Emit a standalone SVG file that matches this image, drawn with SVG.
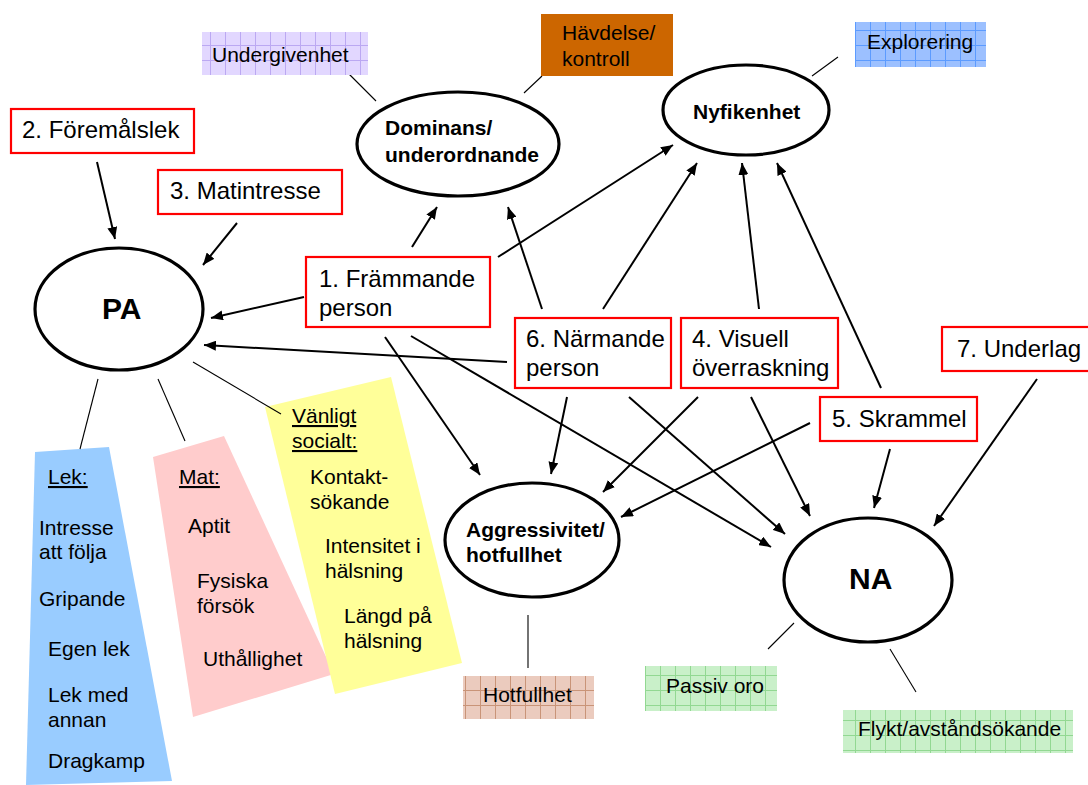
<svg xmlns="http://www.w3.org/2000/svg" width="1088" height="785" viewBox="0 0 1088 785">
<style>
text{font-family:"Liberation Sans",Arial,sans-serif;fill:#000}
.rb{fill:#fff;stroke:#f00;stroke-width:2.2}
.rt{font-size:24px}
.el{fill:#fff;stroke:#000;stroke-width:3.2}
.et{font-size:21px;font-weight:bold}
.big{font-size:30px;font-weight:bold}
.lt{font-size:21px}
.pt{font-size:21px}
.u{text-decoration:underline}
.ar{stroke:#000;stroke-width:2;fill:none;marker-end:url(#ah)}
.tl{stroke:#000;stroke-width:1.1;fill:none}
</style>
<defs>
<marker id="ah" viewBox="0 0 12 10" refX="12" refY="5" markerWidth="12" markerHeight="10" markerUnits="userSpaceOnUse" orient="auto">
<path d="M0,0 L12,5 L0,10 z" fill="#000"/>
</marker>
<pattern id="gP" width="15" height="15" patternUnits="userSpaceOnUse"><rect width="15" height="15" fill="#E2D7FF"/><path d="M0,0.5H15M0.5,0V15" stroke="#BBA8F2" stroke-width="1"/></pattern>
<pattern id="gB" width="15" height="15" patternUnits="userSpaceOnUse"><rect width="15" height="15" fill="#9CC0FF"/><path d="M0,0.5H15M0.5,0V15" stroke="#5C9BFF" stroke-width="1"/></pattern>
<pattern id="gR" width="15" height="15" patternUnits="userSpaceOnUse"><rect width="15" height="15" fill="#EBCBBE"/><path d="M0,0.5H15M0.5,0V15" stroke="#C99478" stroke-width="1"/></pattern>
<pattern id="gG" width="15" height="15" patternUnits="userSpaceOnUse"><rect width="15" height="15" fill="#C9F0C9"/><path d="M0,0.5H15M0.5,0V15" stroke="#92D892" stroke-width="1"/></pattern>
</defs>

<g id="polygons">
<polygon points="35,452 109,447 172,781 26,785" fill="#99CCFF"/>
<polygon points="153,457 224,436 334,674 193,717" fill="#FFCCCC"/>
<polygon points="265,407 391,377 462,663 335,694" fill="#FFFF99"/>
</g>

<g id="connectors">
<line class="tl" x1="347" y1="72" x2="376" y2="101"/>
<line class="tl" x1="542" y1="76" x2="524" y2="93"/>
<line class="tl" x1="838" y1="57" x2="812" y2="76"/>
<line class="tl" x1="98" y1="379" x2="80" y2="449"/>
<line class="tl" x1="158" y1="379" x2="185" y2="441"/>
<line class="tl" x1="193" y1="362" x2="281" y2="414"/>
<line class="tl" x1="528" y1="615" x2="528" y2="668" stroke="#333"/>
<line class="tl" x1="794" y1="623" x2="768" y2="649"/>
<line class="tl" x1="890" y1="649" x2="916" y2="692"/>

<line class="ar" x1="97" y1="162" x2="115" y2="239"/>
<line class="ar" x1="237" y1="223" x2="203" y2="265"/>
<line class="ar" x1="304" y1="297" x2="211" y2="318"/>
<line class="ar" x1="507" y1="362" x2="204" y2="345"/>
<line class="ar" x1="412" y1="247" x2="437" y2="207"/>
<line class="ar" x1="542" y1="309" x2="508" y2="207"/>
<line class="ar" x1="498" y1="257" x2="673" y2="145"/>
<line class="ar" x1="603" y1="309" x2="697" y2="163"/>
<line class="ar" x1="759" y1="309" x2="742" y2="163"/>
<line class="ar" x1="881" y1="388" x2="777" y2="163"/>
<line class="ar" x1="385" y1="337" x2="480" y2="475"/>
<line class="ar" x1="567" y1="397" x2="551" y2="474"/>
<line class="ar" x1="698" y1="397" x2="603" y2="492"/>
<line class="ar" x1="810" y1="423" x2="621" y2="517"/>
<line class="ar" x1="411" y1="336" x2="771" y2="547"/>
<line class="ar" x1="629" y1="397" x2="785" y2="534"/>
<line class="ar" x1="751" y1="397" x2="810" y2="516"/>
<line class="ar" x1="890" y1="449" x2="874" y2="508"/>
<line class="ar" x1="1037" y1="379" x2="934" y2="526"/>
</g>

<g id="polygon-texts">
<text class="pt u" x="48" y="484">Lek:</text>
<text class="pt" x="39" y="535">Intresse</text>
<text class="pt" x="39" y="559">att följa</text>
<text class="pt" x="39" y="606">Gripande</text>
<text class="pt" x="48" y="656">Egen lek</text>
<text class="pt" x="48" y="702">Lek med</text>
<text class="pt" x="48" y="727">annan</text>
<text class="pt" x="48" y="768">Dragkamp</text>

<text class="pt u" x="179" y="484">Mat:</text>
<text class="pt" x="188" y="533">Aptit</text>
<text class="pt" x="197" y="588">Fysiska</text>
<text class="pt" x="197" y="613">försök</text>
<text class="pt" x="203" y="666">Uthållighet</text>

<text class="pt u" x="292" y="423">Vänligt</text>
<text class="pt u" x="292" y="448">socialt:</text>
<text class="pt" x="310" y="484">Kontakt-</text>
<text class="pt" x="310" y="509">sökande</text>
<text class="pt" x="325" y="553">Intensitet i</text>
<text class="pt" x="325" y="578">hälsning</text>
<text class="pt" x="344" y="623">Längd på</text>
<text class="pt" x="344" y="648">hälsning</text>
</g>

<g id="undergivenhet"><rect x="202" y="32" width="166" height="43" fill="url(#gP)"/><text class="lt" x="212" y="62">Undergivenhet</text></g>
<g id="havdelse"><rect x="541" y="14" width="132" height="62" fill="#CC6600"/><text class="lt" x="562" y="40">Hävdelse/</text><text class="lt" x="562" y="66">kontroll</text></g>
<g id="explorering"><rect x="855" y="22" width="131" height="45" fill="url(#gB)"/><text class="lt" x="867" y="49">Explorering</text></g>
<g id="hotfullhet"><rect x="463" y="676" width="131" height="43" fill="url(#gR)"/><text class="lt" x="483" y="702">Hotfullhet</text></g>
<g id="passiv-oro"><rect x="645" y="666" width="132" height="45" fill="url(#gG)"/><text class="lt" x="666" y="693">Passiv oro</text></g>
<g id="flykt"><rect x="843" y="710" width="230" height="43" fill="url(#gG)"/><text class="lt" x="858" y="736">Flykt/avståndsökande</text></g>

<g id="PA"><ellipse class="el" cx="119" cy="309" rx="84" ry="61"/><text class="big" x="102" y="319">PA</text></g>
<g id="dominans"><ellipse class="el" cx="458" cy="144" rx="101" ry="52"/><text class="et" x="385" y="135">Dominans/</text><text class="et" x="385" y="162">underordnande</text></g>
<g id="nyfikenhet"><ellipse class="el" cx="746" cy="110" rx="83" ry="45"/><text class="et" x="693" y="119">Nyfikenhet</text></g>
<g id="aggressivitet"><ellipse class="el" cx="532" cy="540" rx="87" ry="57"/><text class="et" x="466" y="537">Aggressivitet/</text><text class="et" x="466" y="562">hotfullhet</text></g>
<g id="NA"><ellipse class="el" cx="868" cy="580" rx="84" ry="62"/><text class="big" x="849" y="589">NA</text></g>

<g id="foremalslek"><rect class="rb" x="11" y="109" width="183" height="44"/><text class="rt" x="22" y="138">2. Föremålslek</text></g>
<g id="matintresse"><rect class="rb" x="158" y="170" width="184" height="44"/><text class="rt" x="170" y="199">3. Matintresse</text></g>
<g id="frammande"><rect class="rb" x="306" y="257" width="184" height="70"/><text class="rt" x="319" y="287">1. Främmande</text><text class="rt" x="319" y="316">person</text></g>
<g id="narmande"><rect class="rb" x="515" y="318" width="156" height="70"/><text class="rt" x="526" y="347">6. Närmande</text><text class="rt" x="526" y="376">person</text></g>
<g id="visuell"><rect class="rb" x="681" y="318" width="157" height="70"/><text class="rt" x="692" y="347">4. Visuell</text><text class="rt" x="692" y="376">överraskning</text></g>
<g id="skrammel"><rect class="rb" x="820" y="397" width="157" height="44"/><text class="rt" x="832" y="427">5. Skrammel</text></g>
<g id="underlag"><rect class="rb" x="942" y="327" width="152" height="44"/><text class="rt" x="957" y="357">7. Underlag</text></g>
</svg>
